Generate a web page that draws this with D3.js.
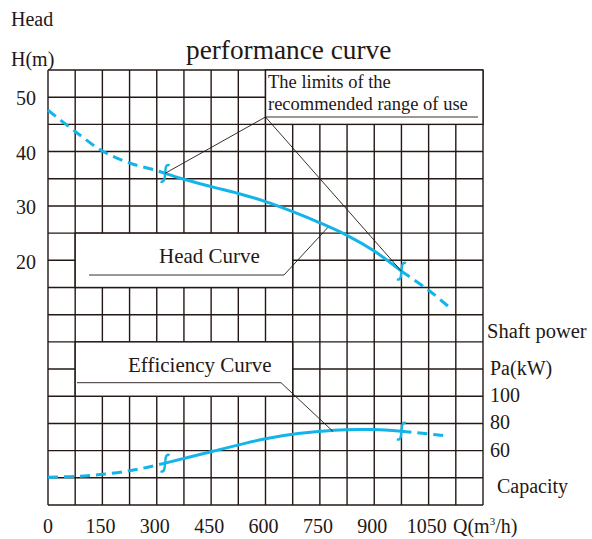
<!DOCTYPE html>
<html>
<head>
<meta charset="utf-8">
<script src="https://cdn.jsdelivr.net/npm/d3@7"></script>
<style>
  html, body { margin: 0; padding: 0; background: #fff; }
  svg { display: block; }
  text { font-family: "Liberation Serif", "Times New Roman", serif; fill: #231815; }
</style>
</head>
<body>
<svg id="chart" width="592" height="539"></svg>
<script>
// ---- data ----
const qTicks = [0, 150, 300, 450, 600, 750, 900, 1050];
const headTicks = [50, 40, 30, 20];
const powerTicks = [100, 80, 60];

const headQ = [0, 75, 150, 225, 300, 323, 375, 450, 525, 600, 675, 750, 825, 900, 975, 1050, 1110];
const headH = [47.6, 43.7, 40.1, 37.9, 36.5, 36.0, 34.9, 33.55, 32.3, 30.8, 28.95, 26.9, 24.6, 21.7, 18.0, 14.5, 11.2];

const effQ = [0, 75, 150, 225, 275, 323, 455, 600, 690, 790, 860, 900, 975, 1095];
const effP = [40.5, 41.0, 42.6, 45.2, 47.8, 50.8, 59.5, 68.8, 72.6, 75.0, 75.6, 75.5, 74.3, 71.0];

const limitQ = [323, 975];

// ---- scales ----
const svg = d3.select("#chart");
const x = d3.scaleLinear().domain([0, 1200]).range([48, 483]);
const yH = d3.scaleLinear().domain([55, -25]).range([70, 505]);
const yP = d3.scaleLinear().domain([340, 20]).range([70, 505]);

const ink = "#231815";
const cyan = "#12b4ea";

// ---- grid ----
const grid = svg.append("g").attr("stroke", ink).attr("stroke-width", 1.4);
d3.range(0, 1201, 75).forEach(q => {
  grid.append("line").attr("x1", x(q)).attr("x2", x(q)).attr("y1", yH(55)).attr("y2", yH(-25));
});
d3.range(55, -26, -5).forEach(h => {
  grid.append("line").attr("x1", x(0)).attr("x2", x(1200)).attr("y1", yH(h)).attr("y2", yH(h));
});

// ---- annotation boxes (white cells covering grid) ----
function box(q0, q1, yTop, yBot) {
  svg.append("rect")
    .attr("x", x(q0)).attr("y", yTop)
    .attr("width", x(q1) - x(q0)).attr("height", yBot - yTop)
    .attr("fill", "#fff").attr("stroke", ink).attr("stroke-width", 1.4);
}
box(600, 1200, yH(55), yH(45));
box(75, 675, yH(25), yH(15));
box(75, 675, yP(140), yP(100));

// ---- curves ----
function drawCurve(qs, vs, ys) {
  const pts = qs.map((q, i) => [q, vs[i]]);
  const line = d3.line().x(d => x(d[0])).y(d => ys(d[1])).curve(d3.curveCatmullRom.alpha(0.5));
  const seg = (a, b) => pts.filter(d => d[0] >= a && d[0] <= b);
  const g = svg.append("g").attr("fill", "none").attr("stroke", cyan).attr("stroke-width", 3);
  g.append("path").attr("d", line(seg(-1, limitQ[0]))).attr("stroke-dasharray", "10,6");
  g.append("path").attr("d", line(seg(limitQ[0], limitQ[1])));
  g.append("path").attr("d", line(seg(limitQ[1], 2000))).attr("stroke-dasharray", "10,6");
  const interp = q => {
    for (let i = 0; i < qs.length - 1; i++) {
      if (q >= qs[i] && q <= qs[i + 1]) {
        const t = (q - qs[i]) / (qs[i + 1] - qs[i]);
        return vs[i] + t * (vs[i + 1] - vs[i]);
      }
    }
    return vs[vs.length - 1];
  };
  // limit marks
  limitQ.forEach(q => {
    const px = x(q), py = ys(interp(q));
    g.append("path")
      .attr("transform", `translate(${px},${py})`)
      .attr("d", "M4.5,-8 C1.5,-9.5 0.5,-6.5 0.3,-3 L-0.3,3 C-0.5,6.5 -1.5,9.5 -4.5,8")
      .attr("stroke-width", 2.4);
  });
  return interp;
}
const headAt = drawCurve(headQ, headH, yH);
const effAt = drawCurve(effQ, effP, yP);

// ---- leader lines ----
const lead = svg.append("g").attr("fill", "none").attr("stroke", ink).attr("stroke-width", 0.9);
const ax = x(600), ay = 117;
lead.append("line").attr("x1", 266).attr("x2", 478).attr("y1", ay).attr("y2", ay);
limitQ.forEach(q => {
  lead.append("line").attr("x1", ax).attr("y1", ay).attr("x2", x(q)).attr("y2", yH(headAt(q)));
});
lead.append("polyline").attr("points", [[89, 275], [284, 275], [x(772), yH(headAt(772)) + 1]].join(" "));
lead.append("polyline").attr("points", [[77, 382.7], [281, 382.7], [x(786), yP(effAt(786)) + 1]].join(" "));

// ---- texts ----
const T = (s, tx, ty, size, anchor) => svg.append("text")
  .attr("x", tx).attr("y", ty).attr("font-size", size)
  .attr("text-anchor", anchor || "start").text(s);

T("performance curve", 186, 59, 27.3);
T("Head", 11, 26, 20);
T("H(m)", 11, 65.5, 20);
headTicks.forEach(h => T(String(h), 36, yH(h) + 8.3, 20, "end"));

T("The limits of the", 268, 88, 18.5);
T("recommended range of use", 268, 110, 18.5);
T("Head Curve", 159, 262.5, 21);
T("Efficiency Curve", 128, 371.5, 21);

T("Shaft power", 487, 338, 20.5);
T("Pa(kW)", 490, 375, 20);
powerTicks.forEach(p => T(String(p), 490, yP(p) + 6, 20));
T("Capacity", 497, 493, 20);

qTicks.forEach(q => T(String(q), x(q) - (q === 0 ? 0 : 2), 533, 20, "middle"));
const ql = svg.append("text").attr("x", 453).attr("y", 533).attr("font-size", 20);
ql.append("tspan").text("Q(m");
ql.append("tspan").attr("font-size", 11).attr("dy", -8).text("3");
ql.append("tspan").attr("dy", 8).text("/h)");
</script>
</body>
</html>
